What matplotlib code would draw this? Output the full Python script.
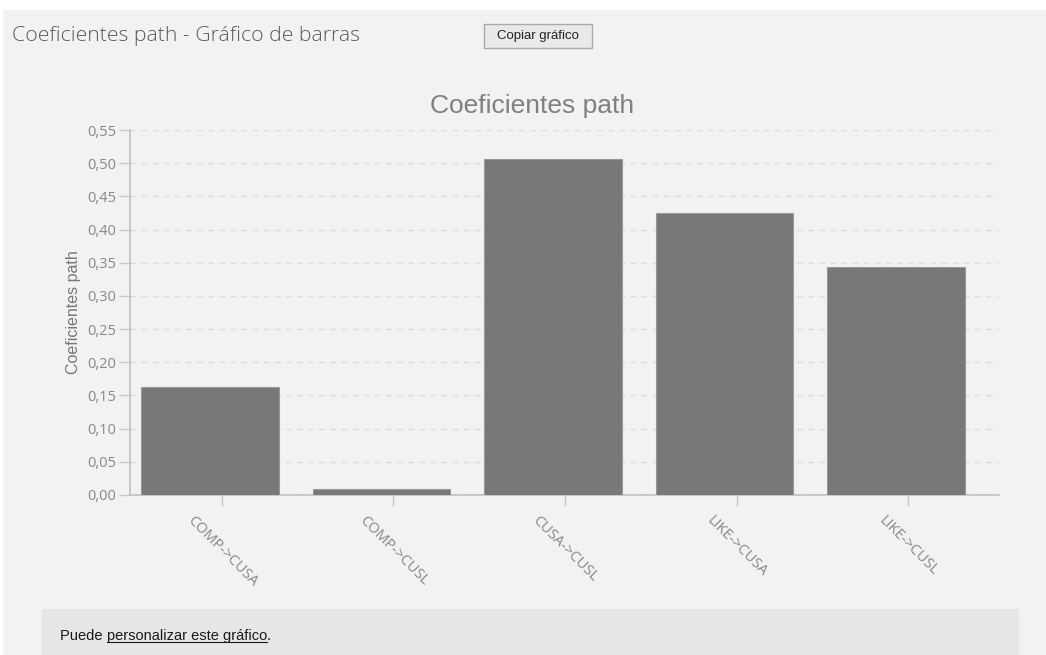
import matplotlib.pyplot as plt
from matplotlib.patches import Rectangle

categorias = ['COMP->CUSA', 'COMP->CUSL', 'CUSA->CUSL', 'LIKE->CUSA', 'LIKE->CUSL']
coeficientes = [0.163, 0.009, 0.506, 0.425, 0.344]
yticks = [0.00, 0.05, 0.10, 0.15, 0.20, 0.25, 0.30, 0.35, 0.40, 0.45, 0.50, 0.55]
ytick_labels = ['%.2f' % v for v in yticks]
ytick_labels = [s.replace('.', ',') for s in ytick_labels]

W, H = 1046, 655
fig = plt.figure(figsize=(W / 100, H / 100), dpi=100, facecolor='#f2f2f2')

# fondo de la página: franja blanca arriba y a la izquierda
fig.patches.append(Rectangle((0, 1 - 10 / H), 1, 10 / H, transform=fig.transFigure,
                             facecolor='white', edgecolor='none', zorder=0))
fig.patches.append(Rectangle((0, 0), 3 / W, 1, transform=fig.transFigure,
                             facecolor='white', edgecolor='none', zorder=0))

# caja del pie
fig.patches.append(Rectangle((42 / W, 0), (1019 - 42) / W, (H - 609) / H, transform=fig.transFigure,
                             facecolor='#e6e6e6', edgecolor='none', zorder=0))

# cabecera
fig.text(12 / W, 1 - 36 / H, 'Coeficientes path - Gráfico de barras', fontsize=15.3,
         family='Open Sans', fontweight='light', color='#5a5a5a', va='center', ha='left')
fig.patches.append(Rectangle((484 / W, 1 - 48 / H), 108 / W, 24 / H, transform=fig.transFigure,
                             facecolor='#e9e9e9', edgecolor='#aaaaaa', linewidth=1, zorder=1))
fig.text(538 / W, 1 - 36 / H, 'Copiar gráfico', fontsize=9.5, family='Liberation Sans',
         color='#222222', va='center', ha='center')

# ejes
ax = fig.add_axes([130 / W, 1 - 495 / H, (999 - 130) / W, (495 - 130) / H])
ax.set_facecolor('none')
x = list(range(len(categorias)))
ax.bar(x, coeficientes, width=0.8, color='#787878', edgecolor='#999999', linewidth=0.8, zorder=3)
ax.set_xlim(-0.466, 4.6)
ax.set_ylim(0, 0.55)
ax.set_xticks([i + 0.07 for i in x])
ax.set_xticklabels(categorias, rotation=-45, ha='center', va='top', fontsize=10.5,
                   family='Open Sans', color='#888888')
ax.set_yticks(yticks)
ax.set_yticklabels(ytick_labels, fontsize=10.5, family='Open Sans', color='#888888')
ax.tick_params(axis='both', length=8, color='#c8c8c8', width=1)
ax.tick_params(axis='x', pad=5)
ax.tick_params(axis='y', pad=2)
ax.grid(axis='y', linestyle=(0, (4, 4)), color='#dddddd', linewidth=1, zorder=0)
for s in ['top', 'right']:
    ax.spines[s].set_visible(False)
for s in ['left', 'bottom']:
    ax.spines[s].set_color('#c0c0c0')
    ax.spines[s].set_linewidth(1.2)
ax.set_ylabel('Coeficientes path', fontsize=11.5, family='Liberation Sans', color='#777777', labelpad=4)
fig.text(532 / W, 1 - 106 / H, 'Coeficientes path', fontsize=19, family='Liberation Sans',
         color='#808080', ha='center', va='center')

# pie
pie_font = dict(fontsize=10.5, family='Liberation Sans', color='#1a1a1a', va='center', ha='left')
t1 = fig.text(60 / W, 1 - 636 / H, 'Puede ', **pie_font)
fig.canvas.draw()
r = fig.canvas.get_renderer()
bb = t1.get_window_extent(r)
t2 = fig.text(bb.x1 / W, 1 - 636 / H, 'personalizar este gráfico', **pie_font)
bb2 = t2.get_window_extent(r)
fig.text(bb2.x1 / W, 1 - 636 / H, '.', **pie_font)
fig.add_artist(plt.Line2D([bb2.x0 / W, bb2.x1 / W], [(bb2.y0 + 1) / H, (bb2.y0 + 1) / H],
                          color='#1a1a1a', linewidth=0.8, transform=fig.transFigure))

fig.savefig('out.png', dpi=100, facecolor=fig.get_facecolor())
